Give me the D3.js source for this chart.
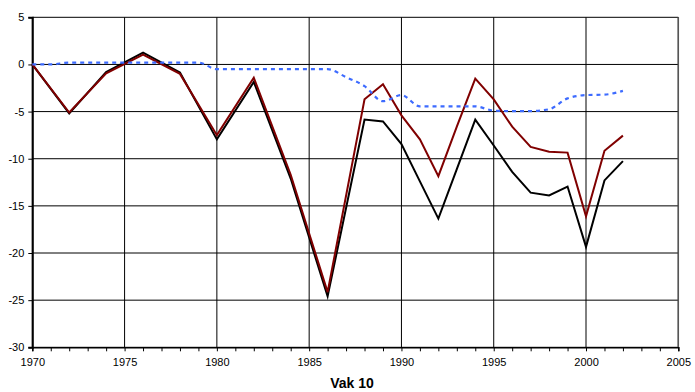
<!DOCTYPE html>
<html><head><meta charset="utf-8">
<script src="https://cdn.jsdelivr.net/npm/d3@7"></script>
<style>body{margin:0;background:#fff}svg{display:block}text{font-family:"Liberation Sans",Arial,sans-serif}</style>
</head><body><svg id="c" width="695" height="392"></svg>
<script>
const years = [1970,1972,1974,1976,1978,1980,1982,1984,1986,1988,1989,1990,1991,1992,1993,1994,1995,1996,1997,1998,1999,2000,2001,2002];
const blackVals = [0,-5.2,-0.8,1.25,-0.85,-7.95,-1.85,-12.1,-24.6,-5.85,-6.05,-8.45,-12.4,-16.35,-11.1,-5.85,-8.6,-11.4,-13.6,-13.9,-12.95,-19.35,-12.3,-10.25];
const redVals   = [0,-5.1,-0.95,1.05,-1.0,-7.5,-1.4,-11.7,-24.15,-3.7,-2.1,-5.4,-7.95,-11.85,-6.6,-1.5,-3.7,-6.6,-8.75,-9.25,-9.35,-16.1,-9.15,-7.55];
const blueYears = [1970,1971,1972,1974,1976,1978,1979,1980,1982,1984,1986,1987,1988,1989,1990,1991,1992,1993,1994,1995,1996,1997,1998,1999,2000,2001,2002];
const blueVals  = [0,0,0.2,0.2,0.2,0.2,0.2,-0.5,-0.5,-0.5,-0.5,-1.35,-2.3,-3.9,-3.25,-4.45,-4.45,-4.45,-4.45,-4.9,-4.95,-4.95,-4.75,-3.6,-3.25,-3.2,-2.8];
const xTicks = [1970,1975,1980,1985,1990,1995,2000,2005];
const yTicks = [5,0,-5,-10,-15,-20,-25,-30];
const xTitle = "Vak 10";

const svg = d3.select("#c");
const x = d3.scaleLinear().domain([1970,2005]).range([32.3,678.3]);
const y = d3.scaleLinear().domain([-30,5]).range([347.3,17.3]);

// gridlines
svg.append("g").selectAll("line").data(yTicks).join("line")
  .attr("x1",x(1970)).attr("x2",x(2005)).attr("y1",d=>y(d)).attr("y2",d=>y(d))
  .attr("stroke","#000").attr("stroke-width",1);
svg.append("g").selectAll("line").data(xTicks).join("line")
  .attr("x1",d=>x(d)).attr("x2",d=>x(d)).attr("y1",y(5)).attr("y2",y(-30))
  .attr("stroke","#000").attr("stroke-width",1);
svg.append("line").attr("x1",x(2005)).attr("x2",x(2005)).attr("y1",y(5)).attr("y2",y(-30))
  .attr("stroke","#555").attr("stroke-width",1.5);

// axes
const xAxis = d3.axisBottom(x).tickValues(d3.range(1970,2006,1)).tickSize(4)
  .tickFormat(d => xTicks.includes(d) ? String(d) : "");
const gx = svg.append("g").attr("transform",`translate(0,${y(-30)})`).call(xAxis);
gx.select(".domain").attr("stroke","#000").attr("stroke-width",1.5);
gx.selectAll(".tick line").attr("stroke","#000");
gx.selectAll("text").attr("font-size",11).attr("fill","#000").attr("dy","1.05em");

const yAxis = d3.axisLeft(y).tickValues(yTicks).tickSize(4).tickFormat(d3.format("d"));
const gy = svg.append("g").attr("transform",`translate(${x(1970)},0)`).call(yAxis);
gy.select(".domain").attr("stroke","#000").attr("stroke-width",2);
gy.selectAll(".tick line").attr("stroke","#000");
gy.selectAll("text").attr("font-size",11).attr("fill","#000").attr("x",-8)
  .text(d => d<0 ? "-"+Math.abs(d) : String(d));

// lines
const line = d3.line().x(d=>x(d[0])).y(d=>y(d[1]));
svg.append("path").datum(years.map((yr,i)=>[yr,blackVals[i]]))
  .attr("d",line).attr("fill","none").attr("stroke","#000").attr("stroke-width",2).attr("stroke-linejoin","miter");
svg.append("path").datum(years.map((yr,i)=>[yr,redVals[i]]))
  .attr("d",line).attr("fill","none").attr("stroke","#800000").attr("stroke-width",2).attr("stroke-linejoin","miter");
const smooth = d3.line().x(d=>x(d[0])).y(d=>y(d[1])).curve(d3.curveMonotoneX);
svg.append("path").datum(blueYears.map((yr,i)=>[yr,blueVals[i]]))
  .attr("d",smooth).attr("fill","none").attr("stroke","#3d6bff").attr("stroke-width",2.2)
  .attr("stroke-dasharray","4,4");

// title
svg.append("text").attr("x",352).attr("y",388).attr("text-anchor","middle")
  .attr("font-size",14).attr("font-weight","bold").text(xTitle);
</script></body></html>
